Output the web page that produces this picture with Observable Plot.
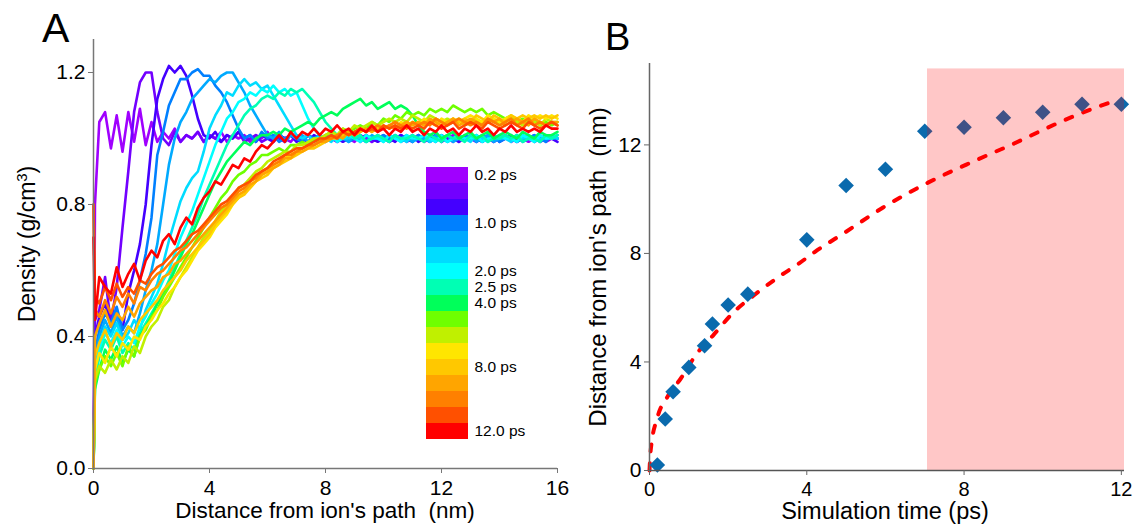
<!DOCTYPE html>
<html><head><meta charset="utf-8">
<script src="https://cdn.jsdelivr.net/npm/d3@7"></script>
<script src="https://cdn.jsdelivr.net/npm/@observablehq/plot@0.6"></script>
<style>
body{margin:0;background:#fff;}
#wrap{position:relative;width:1133px;height:524px;overflow:hidden;font-family:"Liberation Sans",Arial,sans-serif;}
#wrap > svg, #wrap > div{position:absolute;}
</style></head><body>
<div id="wrap"></div>
<script>
// ---------- Panel A data ----------
const distance = [0, 0.05,
  0.2, 0.4, 0.6, 0.8, 1.0,   1.2, 1.4, 1.6, 1.8, 2.0,   2.2, 2.4, 2.6, 2.8, 3.0,   3.2, 3.4, 3.6, 3.8, 4.0,
  4.2, 4.4, 4.6, 4.8, 5.0,   5.2, 5.4, 5.6, 5.8, 6.0,   6.2, 6.4, 6.6, 6.8, 7.0,   7.2, 7.4, 7.6, 7.8, 8.0,
  8.2, 8.4, 8.6, 8.8, 9.0,   9.2, 9.4, 9.6, 9.8, 10.0,  10.2, 10.4, 10.6, 10.8, 11.0, 11.2, 11.4, 11.6, 11.8, 12.0,
  12.2, 12.4, 12.6, 12.8, 13.0, 13.2, 13.4, 13.6, 13.8, 14.0, 14.2, 14.4, 14.6, 14.8, 15.0, 15.2, 15.4, 15.6, 15.8, 16.0];

const times = [0.2, 0.4, 0.6, 1.0, 1.4, 1.6, 2.0, 2.5, 4, 5, 6, 7, 8, 9, 10, 11, 12];
const timeColors = ["#a000ff","#7200ff","#4400ff","#0080ff","#00aaff","#00dcff","#00ffff","#00ffb4","#00ff5a",
                    "#6eff00","#c0f000","#ffe600","#ffc800","#ffa500","#ff8000","#ff5000","#ff0000"];
const legendLabels = ["0.2 ps","","","1.0 ps","","","2.0 ps","2.5 ps","4.0 ps","","","","8.0 ps","","","","12.0 ps"];

const dens_0_2 = [0, 0.80,
 1.05,1.08,0.97,1.07,0.96, 1.08,0.99,1.09,0.98,1.05, 0.99,1.02,1.00,1.03,0.99, 1.01,1.00,1.02,0.99,1.01,
 1.00,1.02,0.99,1.01,1.00, 1.01,0.99,1.01,1.00,1.02, 0.99,1.01,1.00,0.99,1.01, 1.00,1.01,0.99,1.00,1.01,
 1.00,0.99,1.01,1.00,0.99, 1.01,1.00,0.99,1.01,1.00, 0.99,1.00,1.01,0.99,1.00, 1.01,0.99,1.00,1.01,0.99,
 1.00,1.01,0.99,1.00,1.01, 0.99,1.00,1.01,0.99,1.00, 1.01,0.99,1.00,1.00,0.99, 1.00,1.01,0.99,1.00,1.00];
const dens_0_4 = [0, 0.45,
 0.48,0.58,0.44,0.55,0.73, 0.90,1.08,1.17,1.20,1.20, 1.08,1.00,0.98,1.02,0.99, 1.01,1.00,1.02,0.99,1.01,
 1.00,0.99,1.01,1.00,1.02, 0.99,1.00,1.01,0.99,1.00, 1.01,1.00,0.99,1.01,1.00, 0.99,1.01,1.00,1.00,0.99,
 1.01,0.99,1.00,1.01,1.00, 1.00,1.01,0.99,1.00,1.01, 0.99,1.00,1.01,1.00,0.99, 1.01,1.00,0.99,1.00,1.01,
 1.00,0.99,1.01,1.00,1.00, 0.99,1.01,1.00,0.99,1.01, 1.00,1.00,0.99,1.01,1.00, 1.01,0.99,1.00,1.00,1.01];
const dens_0_6 = [0, 0.40,
 0.46,0.50,0.43,0.48,0.42, 0.53,0.60,0.68,0.80,0.98, 1.12,1.18,1.22,1.20,1.22, 1.19,1.13,1.06,1.01,1.00,
 1.02,0.99,1.01,1.00,1.02, 1.00,1.01,0.99,1.01,1.00, 0.99,1.01,1.00,1.01,0.99, 1.00,0.99,1.01,1.00,1.00,
 1.01,1.00,0.99,1.00,1.01, 0.99,1.01,1.00,0.99,1.00, 1.00,0.99,1.01,1.00,1.01, 0.99,1.00,1.00,1.01,0.99,
 1.01,1.00,0.99,1.01,1.00, 1.00,0.99,1.00,1.01,0.99, 1.00,1.01,0.99,1.00,1.01, 0.99,1.00,1.01,1.00,0.99];
const dens_1_0 = [0, 0.35,
 0.42,0.47,0.44,0.49,0.42, 0.45,0.50,0.57,0.65,0.76, 0.95,1.02,1.10,1.14,1.18, 1.18,1.20,1.21,1.19,1.19,
 1.16,1.14,1.11,1.07,1.03, 1.00,1.01,0.99,1.02,1.00, 1.01,0.99,1.00,1.01,1.00, 0.99,1.01,1.00,0.99,1.01,
 1.00,1.00,1.01,0.99,1.00, 1.01,0.99,1.00,1.00,1.01, 1.00,1.01,0.99,1.00,0.99, 1.01,1.00,1.00,0.99,1.01,
 0.99,1.00,1.01,1.00,1.00, 1.01,0.99,1.00,1.01,0.99, 1.00,1.00,1.01,0.99,1.00, 1.01,1.00,0.99,1.01,1.00];
const dens_1_4 = [0, 0.32,
 0.40,0.45,0.41,0.46,0.40, 0.43,0.41,0.47,0.54,0.60, 0.68,0.80,0.92,1.00,1.05, 1.08,1.12,1.14,1.16,1.18,
 1.17,1.19,1.20,1.20,1.17, 1.14,1.10,1.07,1.04,1.01, 1.00,1.02,0.99,1.01,1.00, 1.01,0.99,1.00,1.01,0.99,
 1.00,1.01,1.00,0.99,1.01, 1.00,0.99,1.01,1.00,1.00, 0.99,1.01,1.00,1.01,0.99, 1.00,1.00,0.99,1.01,1.00,
 1.01,0.99,1.00,1.00,1.01, 0.99,1.00,1.01,0.99,1.00, 1.01,1.00,0.99,1.00,1.01, 1.00,0.99,1.01,1.00,1.00];
const dens_1_6 = [0, 0.30,
 0.38,0.43,0.40,0.44,0.39, 0.41,0.45,0.42,0.48,0.52, 0.56,0.62,0.69,0.75,0.81, 0.85,0.88,0.90,0.96,1.03,
 1.07,1.10,1.14,1.13,1.16, 1.18,1.16,1.17,1.15,1.16, 1.13,1.10,1.07,1.04,1.01, 1.00,1.01,0.99,1.01,1.00,
 0.99,1.01,1.00,1.00,1.01, 1.00,0.99,1.00,1.01,0.99, 1.01,1.00,1.00,0.99,1.01, 1.00,1.01,0.99,1.00,1.00,
 0.99,1.00,1.01,1.00,0.99, 1.01,1.00,0.99,1.01,1.00, 1.00,0.99,1.01,1.00,1.01, 0.99,1.00,1.00,1.01,1.00];
const dens_2_0 = [0, 0.28,
 0.36,0.41,0.38,0.42,0.37, 0.40,0.38,0.43,0.46,0.50, 0.53,0.57,0.60,0.65,0.70, 0.74,0.78,0.83,0.88,0.93,
 0.98,1.02,1.06,1.08,1.11, 1.12,1.14,1.13,1.15,1.14, 1.16,1.14,1.15,1.13,1.14, 1.10,1.06,1.03,1.01,1.00,
 1.01,0.99,1.00,1.01,1.00, 0.99,1.01,1.00,1.00,0.99, 1.01,1.00,0.99,1.01,1.00, 1.00,1.01,1.00,0.99,1.01,
 0.99,1.00,1.01,1.00,1.00, 1.01,0.99,1.00,1.00,1.01, 1.00,1.00,0.99,1.01,1.00, 0.99,1.01,1.00,1.00,1.01];
const dens_2_5 = [0, 0.26,
 0.34,0.39,0.36,0.40,0.35, 0.38,0.36,0.41,0.44,0.47, 0.50,0.53,0.57,0.61,0.65, 0.69,0.73,0.77,0.82,0.86,
 0.90,0.94,0.98,1.01,1.04, 1.07,1.09,1.10,1.12,1.13, 1.12,1.14,1.13,1.15,1.14, 1.15,1.13,1.11,1.08,1.05,
 1.03,1.01,1.00,1.02,1.00, 1.01,0.99,1.00,1.01,1.00, 0.99,1.01,1.00,1.00,1.01, 1.00,0.99,1.01,1.00,0.99,
 1.01,1.00,1.00,0.99,1.01, 1.00,1.01,0.99,1.00,1.00, 1.01,1.00,1.01,0.99,1.00, 1.00,0.99,1.01,1.00,1.01];
const dens_4_0 = [0, 0.24,
 0.30,0.36,0.33,0.37,0.32, 0.36,0.34,0.40,0.43,0.46, 0.50,0.53,0.56,0.60,0.64, 0.68,0.71,0.75,0.79,0.83,
 0.87,0.90,0.93,0.95,0.97, 0.99,0.98,1.00,1.01,1.01, 1.02,1.01,1.03,1.02,1.03, 1.04,1.05,1.04,1.06,1.07,
 1.08,1.07,1.09,1.10,1.11, 1.12,1.10,1.11,1.09,1.10, 1.11,1.09,1.10,1.09,1.07, 1.04,1.02,1.01,1.02,1.00,
 1.01,1.02,1.00,1.01,1.02, 1.00,1.01,1.02,1.00,1.01, 1.02,1.01,1.00,1.02,1.01, 1.00,1.02,1.01,1.01,1.02];
const dens_5_0 = [0, 0.26,
 0.30,0.34,0.31,0.35,0.31, 0.37,0.34,0.40,0.42,0.46, 0.48,0.52,0.55,0.58,0.61, 0.64,0.67,0.70,0.73,0.76,
 0.79,0.82,0.84,0.87,0.89, 0.90,0.92,0.93,0.95,0.95, 0.96,0.97,0.96,0.98,0.98, 0.99,0.98,1.00,0.99,1.01,
 1.02,1.01,1.03,1.02,1.03, 1.04,1.03,1.05,1.04,1.06, 1.05,1.07,1.06,1.08,1.07, 1.08,1.07,1.09,1.08,1.09,
 1.08,1.10,1.09,1.08,1.09, 1.08,1.09,1.07,1.08,1.07, 1.06,1.07,1.05,1.06,1.05, 1.06,1.04,1.05,1.04,1.05];
const dens_6_0 = [0, 0.27,
 0.31,0.29,0.33,0.30,0.34, 0.32,0.37,0.35,0.40,0.43, 0.45,0.49,0.51,0.55,0.58, 0.61,0.64,0.67,0.70,0.72,
 0.75,0.78,0.80,0.82,0.85, 0.86,0.88,0.90,0.91,0.93, 0.94,0.95,0.96,0.96,0.98, 0.98,0.99,1.00,1.00,1.01,
 1.02,1.01,1.03,1.02,1.04, 1.03,1.04,1.05,1.04,1.05, 1.06,1.05,1.06,1.05,1.07, 1.06,1.05,1.07,1.06,1.05,
 1.06,1.05,1.06,1.04,1.05, 1.06,1.04,1.05,1.06,1.04, 1.05,1.06,1.05,1.04,1.06, 1.05,1.04,1.06,1.05,1.05];
const dens_7_0 = [0, 0.30,
 0.35,0.32,0.37,0.34,0.38, 0.36,0.40,0.39,0.43,0.45, 0.48,0.50,0.53,0.55,0.58, 0.60,0.63,0.66,0.68,0.70,
 0.73,0.75,0.77,0.80,0.82, 0.84,0.85,0.87,0.89,0.90, 0.92,0.93,0.94,0.95,0.96, 0.97,0.98,0.98,0.99,1.00,
 1.00,1.01,1.02,1.01,1.02, 1.03,1.02,1.03,1.04,1.03, 1.04,1.03,1.05,1.04,1.05, 1.04,1.06,1.05,1.04,1.06,
 1.05,1.06,1.05,1.06,1.07, 1.06,1.05,1.07,1.06,1.05, 1.06,1.07,1.06,1.05,1.07, 1.06,1.07,1.06,1.07,1.06];
const dens_8_0 = [0, 0.34,
 0.38,0.42,0.37,0.41,0.39, 0.43,0.41,0.45,0.47,0.49, 0.51,0.54,0.56,0.58,0.60, 0.63,0.65,0.67,0.69,0.71,
 0.74,0.76,0.78,0.80,0.82, 0.83,0.85,0.87,0.88,0.89, 0.91,0.92,0.93,0.94,0.95, 0.96,0.97,0.97,0.98,0.99,
 1.00,1.00,1.01,1.02,1.01, 1.02,1.03,1.02,1.03,1.04, 1.03,1.04,1.03,1.05,1.04, 1.05,1.04,1.05,1.06,1.05,
 1.04,1.06,1.05,1.06,1.05, 1.07,1.06,1.05,1.07,1.06, 1.05,1.07,1.06,1.07,1.06, 1.07,1.06,1.07,1.06,1.07];
const dens_9_0 = [0, 0.40,
 0.44,0.48,0.43,0.47,0.45, 0.49,0.46,0.50,0.52,0.54, 0.55,0.58,0.59,0.62,0.63, 0.65,0.67,0.69,0.71,0.73,
 0.75,0.77,0.79,0.81,0.83, 0.84,0.86,0.87,0.89,0.90, 0.91,0.92,0.94,0.94,0.96, 0.96,0.97,0.98,0.99,0.99,
 1.00,1.01,1.00,1.02,1.01, 1.02,1.03,1.02,1.04,1.03, 1.04,1.03,1.04,1.05,1.04, 1.05,1.04,1.06,1.05,1.04,
 1.05,1.06,1.04,1.05,1.06, 1.05,1.04,1.06,1.05,1.06, 1.04,1.05,1.06,1.05,1.04, 1.06,1.05,1.04,1.05,1.05];
const dens_10_0 = [0.80, 0.48,
 0.46,0.51,0.47,0.52,0.49, 0.53,0.50,0.55,0.54,0.57, 0.59,0.60,0.62,0.64,0.66, 0.67,0.69,0.71,0.73,0.75,
 0.77,0.79,0.80,0.82,0.84, 0.85,0.87,0.88,0.90,0.91, 0.92,0.93,0.95,0.95,0.96, 0.97,0.98,0.98,0.99,1.00,
 1.00,1.01,1.02,1.01,1.02, 1.03,1.02,1.03,1.04,1.03, 1.04,1.05,1.04,1.03,1.05, 1.04,1.05,1.04,1.06,1.05,
 1.04,1.05,1.06,1.05,1.04, 1.05,1.04,1.06,1.05,1.04, 1.05,1.06,1.04,1.05,1.06, 1.04,1.05,1.04,1.05,1.04];
const dens_11_0 = [0.80, 0.52,
 0.50,0.55,0.51,0.56,0.52, 0.55,0.53,0.57,0.56,0.59, 0.61,0.62,0.64,0.66,0.67, 0.69,0.71,0.72,0.74,0.76,
 0.78,0.80,0.81,0.83,0.85, 0.86,0.87,0.89,0.90,0.91, 0.93,0.94,0.95,0.96,0.97, 0.97,0.98,0.99,1.00,1.00,
 1.01,1.00,1.02,1.01,1.02, 1.03,1.02,1.03,1.02,1.04, 1.03,1.04,1.03,1.04,1.03, 1.04,1.03,1.05,1.04,1.03,
 1.04,1.05,1.03,1.04,1.05, 1.04,1.03,1.05,1.04,1.03, 1.04,1.05,1.04,1.03,1.05, 1.04,1.03,1.04,1.05,1.04];
const dens_12_0 = [0.70, 0.45,
 0.58,0.55,0.53,0.61,0.55, 0.59,0.62,0.57,0.63,0.66, 0.64,0.69,0.71,0.68,0.73, 0.76,0.74,0.79,0.82,0.84,
 0.87,0.86,0.89,0.92,0.91, 0.94,0.93,0.96,0.98,0.97, 0.99,1.01,0.99,1.02,1.00, 1.02,1.01,1.03,1.01,1.03,
 1.02,1.04,1.02,1.03,1.01, 1.03,1.02,1.04,1.02,1.03, 1.01,1.03,1.02,1.04,1.02, 1.03,1.01,1.03,1.02,1.04,
 1.02,1.03,1.01,1.03,1.02, 1.04,1.02,1.03,1.01,1.03, 1.02,1.04,1.02,1.03,1.02, 1.03,1.02,1.04,1.03,1.03];

const densityA = [dens_0_2, dens_0_4, dens_0_6, dens_1_0, dens_1_4, dens_1_6, dens_2_0, dens_2_5, dens_4_0,
                  dens_5_0, dens_6_0, dens_7_0, dens_8_0, dens_9_0, dens_10_0, dens_11_0, dens_12_0];
const ticksAx = [0, 4, 8, 12, 16];
const ticksAy = [0, 0.4, 0.8, 1.2];

// ---------- Panel B data ----------
const simTime  = [0.2, 0.4, 0.6, 1.0, 1.4, 1.6, 2.0, 2.5, 4, 5, 6, 7, 8, 9, 10, 11, 12];
const frontDist = [0.2, 1.9, 2.9, 3.8, 4.6, 5.4, 6.1, 6.5, 8.5, 10.5, 11.1, 12.5, 12.65, 13.0, 13.2, 13.5, 13.5];
const fitTime = [0, 0.03, 0.2, 0.45, 0.8, 1.2, 1.63, 2.15, 2.65, 3.3, 3.77, 4.2, 5.0, 5.95, 7.07, 8.25, 9.27, 10.3, 11.3, 11.9];
const fitDist = [0, 0.74, 1.95, 2.7, 3.4, 4.3, 5.0, 5.85, 6.45, 7.15, 7.6, 8.05, 8.8, 9.7, 10.6, 11.4, 12.05, 12.75, 13.35, 13.65];
const shadeStart = [7.07], shadeEnd = [12.08], shadeTop = [14.8];
const ticksBx = [0, 4, 8, 12];
const ticksBy = [0, 4, 8, 12];

// ---------- build ----------
const FONT = '"Liberation Sans", Arial, Helvetica, sans-serif';
const wrap = document.getElementById("wrap");

const rowsA = [];
times.forEach((t, i) => {
  const ys = densityA[i];
  distance.forEach((r, j) => { if (ys[j] != null) rowsA.push({t, r, d: ys[j]}); });
});

const plotA = Plot.plot({
  width: 580, height: 524,
  marginLeft: 93, marginRight: 23, marginTop: 39, marginBottom: 56,
  style: {fontFamily: FONT, background: "transparent", color: "#000"},
  x: {domain: [0, 16]},
  y: {domain: [0, 1.3]},
  color: {type: "ordinal", domain: times, range: timeColors},
  marks: [
    Plot.line(rowsA, {x: "r", y: "d", z: "t", stroke: "t", strokeWidth: 2.6, strokeLinejoin: "round"}),
    Plot.ruleX([0], {stroke: "#777", strokeWidth: 1.5}),
    Plot.ruleY([0], {stroke: "#777", strokeWidth: 1.5}),
    Plot.axisX(ticksAx, {tickSize: 5, tickPadding: 7, fontSize: 21, stroke: "#777", label: null}),
    Plot.axisY(ticksAy, {tickSize: 5, tickPadding: 3, fontSize: 21, stroke: "#777", label: null, tickFormat: d3.format(".1f")})
  ]
});
plotA.style.left = "0px"; plotA.style.top = "0px";
wrap.appendChild(plotA);

const legend = Plot.plot({
  width: 140, height: 287, margin: 0, marginRight: 98,
  style: {fontFamily: FONT, background: "transparent", color: "#000", overflow: "visible"},
  x: {axis: null},
  y: {type: "band", domain: times, padding: 0, axis: null},
  color: {type: "ordinal", domain: times, range: timeColors},
  marks: [
    Plot.cell(times, {y: d => d, fill: d => d}),
    Plot.text(times, {y: d => d, text: (d, i) => legendLabels[i], frameAnchor: "right", textAnchor: "start", dx: 6, fontSize: 15.5})
  ]
});
legend.style.left = "426px"; legend.style.top = "159px";
wrap.appendChild(legend);

const frontRows = simTime.map((t, i) => ({t, d: frontDist[i]}));
const fitRows = fitTime.map((t, i) => ({t, d: fitDist[i]}));
const shade = shadeStart.map((x1, i) => ({x1, x2: shadeEnd[i], y1: 0, y2: shadeTop[i]}));

const plotB = Plot.plot({
  width: 553, height: 524,
  marginLeft: 69, marginRight: 9, marginTop: 63, marginBottom: 54,
  style: {fontFamily: FONT, background: "transparent", color: "#000"},
  x: {domain: [0, 12.08]},
  y: {domain: [0, 15]},
  marks: [
    Plot.line(fitRows, {x: "t", y: "d", stroke: "#ff0000", strokeWidth: 4, strokeDasharray: "7,12", strokeLinecap: "round", curve: "monotone-x"}),
    Plot.dot(frontRows, {x: "t", y: "d", symbol: "diamond2", r: 7, fill: "#0a6aad", stroke: "none"}),
    Plot.rect(shade, {x1: "x1", x2: "x2", y1: "y1", y2: "y2", fill: "#ff0000", fillOpacity: 0.22}),
    Plot.ruleX([0], {stroke: "#666", strokeWidth: 1.5}),
    Plot.ruleY([0], {stroke: "#555", strokeWidth: 1.5}),
    Plot.axisX(ticksBx, {tickSize: 5, tickPadding: 6, fontSize: 20, stroke: "#666", label: null}),
    Plot.axisY(ticksBy, {tickSize: 5, tickPadding: 3, fontSize: 21, stroke: "#666", label: null})
  ]
});
plotB.style.left = "580px"; plotB.style.top = "0px";
wrap.appendChild(plotB);

// ---------- titles / labels overlay ----------
const NS = "http://www.w3.org/2000/svg";
const ov = document.createElementNS(NS, "svg");
ov.setAttribute("width", 1133); ov.setAttribute("height", 524);
ov.style.left = "0px"; ov.style.top = "0px"; ov.style.pointerEvents = "none";
ov.setAttribute("font-family", FONT);
function addText(str, x, y, size, opts = {}) {
  const t = document.createElementNS(NS, "text");
  t.setAttribute("x", x); t.setAttribute("y", y);
  t.setAttribute("font-size", size);
  t.setAttribute("fill", "#000");
  t.setAttribute("text-anchor", opts.anchor || "start");
  t.style.whiteSpace = "pre";
  if (opts.rotate) t.setAttribute("transform", `rotate(${opts.rotate} ${x} ${y})`);
  t.textContent = str;
  ov.appendChild(t);
  return t;
}
addText("A", 42, 42, 41);
addText("B", 605, 50, 38);
addText("Distance from ion's path  (nm)", 325, 518, 22.5, {anchor: "middle"});
const yA = addText("Density (g/cm", 35, 244, 23, {anchor: "middle", rotate: -90});
const sup = document.createElementNS(NS, "tspan");
sup.setAttribute("font-size", 15); sup.setAttribute("dy", -8); sup.textContent = "3";
yA.appendChild(sup);
const cl = document.createElementNS(NS, "tspan");
cl.setAttribute("dy", 8); cl.textContent = ")";
yA.appendChild(cl);
addText("Simulation time (ps)", 885, 519, 23.5, {anchor: "middle"});
addText("Distance from ion's path  (nm)", 606, 267, 24, {anchor: "middle", rotate: -90});
wrap.appendChild(ov);
</script>
</body></html>
